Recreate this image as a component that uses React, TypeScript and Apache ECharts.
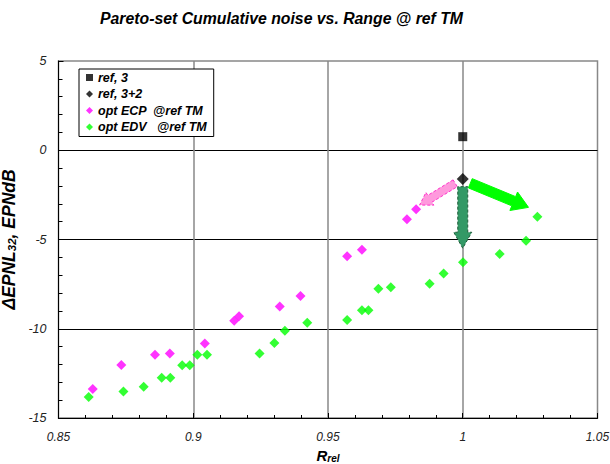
import React, { useEffect, useRef } from "react";
import * as echarts from "echarts";

const FONT = "Liberation Sans, Arial, sans-serif";

const refX = [1.0];
const refY = [0.76];
const ref2X = [1.0];
const ref2Y = [-1.61];

const ecpX = [0.8627, 0.8733, 0.8858, 0.8913, 0.9043, 0.9152, 0.917, 0.9321, 0.9398, 0.9571, 0.9626, 0.9793, 0.9827];
const ecpY = [-13.37, -12.03, -11.45, -11.38, -10.82, -9.55, -9.3, -8.76, -8.17, -5.94, -5.57, -3.87, -3.31];

const edvX = [0.8612, 0.8741, 0.8816, 0.8883, 0.8915, 0.8959, 0.8987, 0.9015, 0.9051, 0.9246, 0.9301, 0.934, 0.9423, 0.9571, 0.9626, 0.965, 0.9687, 0.9733, 0.9877, 0.9929, 1.0001, 1.0137, 1.0235, 1.0277];
const edvY = [-13.82, -13.51, -13.25, -12.74, -12.74, -12.05, -12.05, -11.45, -11.45, -11.38, -10.8, -10.11, -9.66, -9.51, -8.97, -8.97, -7.76, -7.68, -7.48, -6.9, -6.28, -5.81, -5.07, -3.72];

const arrowStartX = [0.9972, 1.0028, 1.0];
const arrowStartY = [-1.85, -1.85, -2.04];
const arrowEndX = [0.984, 1.0244, 1.0];
const arrowEndY = [-3.07, -3.2, -5.49];

const seriesNames = ["ref, 3", "ref, 3+2", "opt ECP  @ref TM", "opt EDV   @ref TM"];

const arrowStyles = [
  { shaft: 8, head: 15, len: 12, fill: "#ff99dd", stroke: "#ff33cc", dash: [3, 2] },
  { shaft: 10, head: 20, len: 16, fill: "#00ff00", stroke: "#00ff00", dash: null as any },
  { shaft: 10, head: 18, len: 16, fill: "#339966", stroke: "#1e5e3a", dash: [3, 2] },
];

function zip(xs: number[], ys: number[]) {
  return xs.map((x, i) => [x, ys[i]]);
}

export default function App() {
  const ref = useRef<HTMLDivElement>(null);
  useEffect(() => {
    if (!ref.current) return;
    const chart = echarts.init(ref.current, undefined, { renderer: "svg" });
    const arrowData = arrowStartX.map((x, i) => [x, arrowStartY[i], arrowEndX[i], arrowEndY[i]]);
    chart.setOption({
      animation: false,
      backgroundColor: "#fff",
      textStyle: { fontFamily: FONT },
      title: {
        text: "Pareto-set Cumulative noise vs. Range @ ref TM",
        left: 100,
        top: 10,
        padding: 0,
        textStyle: { fontFamily: FONT, fontSize: 15.8, fontWeight: "bold", fontStyle: "italic", color: "#000" },
      },
      grid: {
        left: 58.5,
        right: 12.5,
        top: 61,
        bottom: 46,
        show: true,
        borderColor: "#888",
        borderWidth: 1.5,
        containLabel: false,
        outerBoundsMode: "none",
      },
      legend: {
        orient: "vertical",
        left: 79,
        top: 69,
        padding: [2, 7, 3, 7],
        itemGap: 3.5,
        itemWidth: 7,
        itemHeight: 7,
        borderColor: "#000",
        borderWidth: 1,
        backgroundColor: "#fff",
        z: 10,
        textStyle: { fontFamily: FONT, fontSize: 12.5, fontWeight: "bold", fontStyle: "italic", color: "#000", lineHeight: 13 },
        data: [
          { name: seriesNames[0], icon: "rect" },
          { name: seriesNames[1], icon: "diamond" },
          { name: seriesNames[2], icon: "diamond" },
          { name: seriesNames[3], icon: "diamond" },
        ],
      },
      xAxis: {
        type: "value",
        min: 0.85,
        max: 1.05,
        interval: 0.05,
        name: "{b|R}{s|rel}",
        nameLocation: "middle",
        nameGap: 26,
        nameTextStyle: {
          rich: {
            b: { fontFamily: FONT, fontSize: 15, fontWeight: "bold", fontStyle: "italic", color: "#000" },
            s: { fontFamily: FONT, fontSize: 10, fontWeight: "bold", fontStyle: "italic", color: "#000", padding: [6, 0, 0, 0] },
          },
        },
        axisLine: { show: true, onZero: false, lineStyle: { color: "#000", width: 1 } },
        axisTick: { show: true, inside: true, length: 5, lineStyle: { color: "#000" } },
        minorTick: { show: true, splitNumber: 5, length: 3, lineStyle: { color: "#000" } },
        axisLabel: { fontFamily: FONT, fontSize: 12, fontStyle: "italic", color: "#222", margin: 13 },
        splitLine: { show: true, showMinLine: false, showMaxLine: false, lineStyle: { color: "#888", width: 1.5 } },
      },
      yAxis: {
        type: "value",
        min: -15,
        max: 5,
        interval: 5,
        name: "{b|ΔEPNL}{s|32}{b|, EPNdB}",
        nameLocation: "middle",
        nameGap: 32,
        nameRotate: 90,
        nameTextStyle: {
          rich: {
            b: { fontFamily: FONT, fontSize: 17.5, fontWeight: "bold", fontStyle: "italic", color: "#000" },
            s: { fontFamily: FONT, fontSize: 11.5, fontWeight: "bold", fontStyle: "italic", color: "#000", padding: [6, 0, 0, 0] },
          },
        },
        axisLine: { show: true, onZero: false, lineStyle: { color: "#000", width: 1 } },
        axisTick: { show: true, inside: true, length: 5, lineStyle: { color: "#000" } },
        minorTick: { show: true, splitNumber: 5, length: 4, lineStyle: { color: "#000" } },
        axisLabel: { fontFamily: FONT, fontSize: 12.5, fontStyle: "italic", color: "#222", margin: 12 },
        splitLine: { show: true, showMinLine: false, showMaxLine: false, lineStyle: { color: "#000", width: 1 } },
      },
      series: [
        {
          name: seriesNames[3],
          type: "scatter",
          symbol: "diamond",
          symbolSize: 10,
          itemStyle: { color: "#00ff00" },
          data: zip(edvX, edvY),
          z: 3,
        },
        {
          name: seriesNames[2],
          type: "scatter",
          symbol: "diamond",
          symbolSize: 10,
          itemStyle: { color: "#ff00ff" },
          data: zip(ecpX, ecpY),
          z: 3,
        },
        {
          name: "arrows",
          type: "custom",
          coordinateSystem: "cartesian2d",
          z: 4,
          data: arrowData,
          renderItem: (params: any, api: any) => {
            const st = arrowStyles[params.dataIndex];
            const p1 = api.coord([api.value(0), api.value(1)]);
            const p2 = api.coord([api.value(2), api.value(3)]);
            const dx = p2[0] - p1[0];
            const dy = p2[1] - p1[1];
            const L = Math.sqrt(dx * dx + dy * dy) || 1;
            const ux = dx / L, uy = dy / L;
            const nx = -uy, ny = ux;
            const bx = p2[0] - ux * st.len, by = p2[1] - uy * st.len;
            const s = st.shaft / 2, h = st.head / 2;
            const pts = [
              [p1[0] + nx * s, p1[1] + ny * s],
              [bx + nx * s, by + ny * s],
              [bx + nx * h, by + ny * h],
              [p2[0], p2[1]],
              [bx - nx * h, by - ny * h],
              [bx - nx * s, by - ny * s],
              [p1[0] - nx * s, p1[1] - ny * s],
            ];
            return {
              type: "polygon",
              shape: { points: pts },
              style: { fill: st.fill, stroke: st.stroke, lineWidth: 1, lineDash: st.dash },
            };
          },
        },
        {
          name: seriesNames[0],
          type: "scatter",
          symbol: "rect",
          symbolSize: 9,
          itemStyle: { color: "#000" },
          data: zip(refX, refY),
          z: 5,
        },
        {
          name: seriesNames[1],
          type: "scatter",
          symbol: "diamond",
          symbolSize: 12,
          itemStyle: { color: "#000" },
          data: zip(ref2X, ref2Y),
          z: 5,
        },
      ],
    });
    return () => chart.dispose();
  }, []);
  return <div ref={ref} style={{ width: 610, height: 464, position: "absolute", left: 0, top: 0 }} />;
}
